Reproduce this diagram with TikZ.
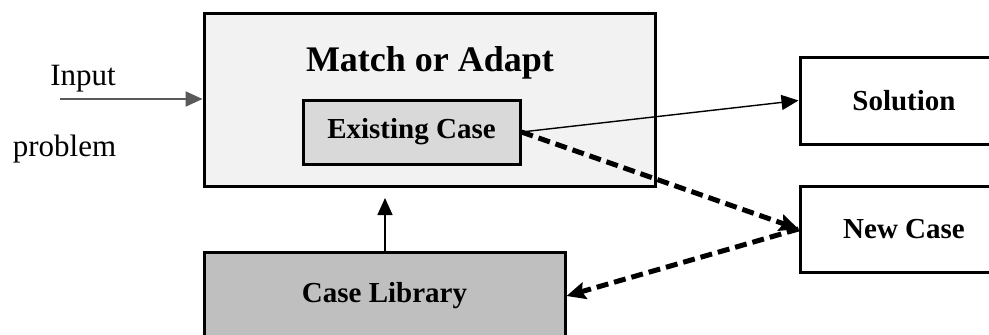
\documentclass[tikz,border=0pt]{standalone}
\usepackage{fontspec}
\setmainfont{Liberation Serif}
\usetikzlibrary{arrows.meta}

\definecolor{paleGray}{HTML}{F2F2F2}
\definecolor{midGray}{HTML}{D9D9D9}
\definecolor{darkGray}{HTML}{BFBFBF}

\begin{document}
\begin{tikzpicture}[x=1pt,y=-1pt,
    box/.style={draw,line width=3pt,inner sep=0pt,
        font={\fontsize{29}{32}\selectfont\bfseries}},
    plain/.style={font={\fontsize{31}{34}\selectfont}},
    thin arrow/.style={-{Triangle[length=17pt,width=15pt]},line width=1.4pt},
    dash arrow/.style={-{Stealth[length=19pt,width=17pt,inset=3pt]},
        line width=5pt,dash pattern=on 12pt off 6pt}]
\useasboundingbox (0,0) rectangle (989,335);

% boxes
\node[box,fill=paleGray,minimum width=451pt,minimum height=173pt]
    (match) at (429.5,99.5) {};
\node[anchor=base,font={\fontsize{36}{40}\selectfont\bfseries}]
    (title) at (430,71) {Match or Adapt};
\node[box,fill=midGray,minimum width=217pt,minimum height=64pt]
    (existing) at (411.5,132) {Existing Case};
\node[box,fill=darkGray,minimum width=361pt,minimum height=88pt]
    (library) at (384.5,296) {Case Library};
\node[box,minimum width=208pt,minimum height=87pt]
    (solution) at (904,100.5) {Solution};
\node[box,minimum width=208pt,minimum height=86pt]
    (newcase) at (904,229) {New Case};

% input text
\node[plain,anchor=base] (input) at (83,85) {Input};
\node[plain,anchor=base] (problem) at (64.5,156) {problem};
\coordinate (in) at (60,99);

% connectors
\draw[thin arrow,draw=black!65,line width=2.2pt] (in) -- (match.west |- in);
\draw[thin arrow] (library.north -| 385,0) -- (385,198);
\draw[thin arrow] (existing.east) -- (solution.west);
\draw[dash arrow] (existing.east) -- (newcase.west);
\draw[dash arrow] (newcase.west) -- (library.east);
\end{tikzpicture}
\end{document}
